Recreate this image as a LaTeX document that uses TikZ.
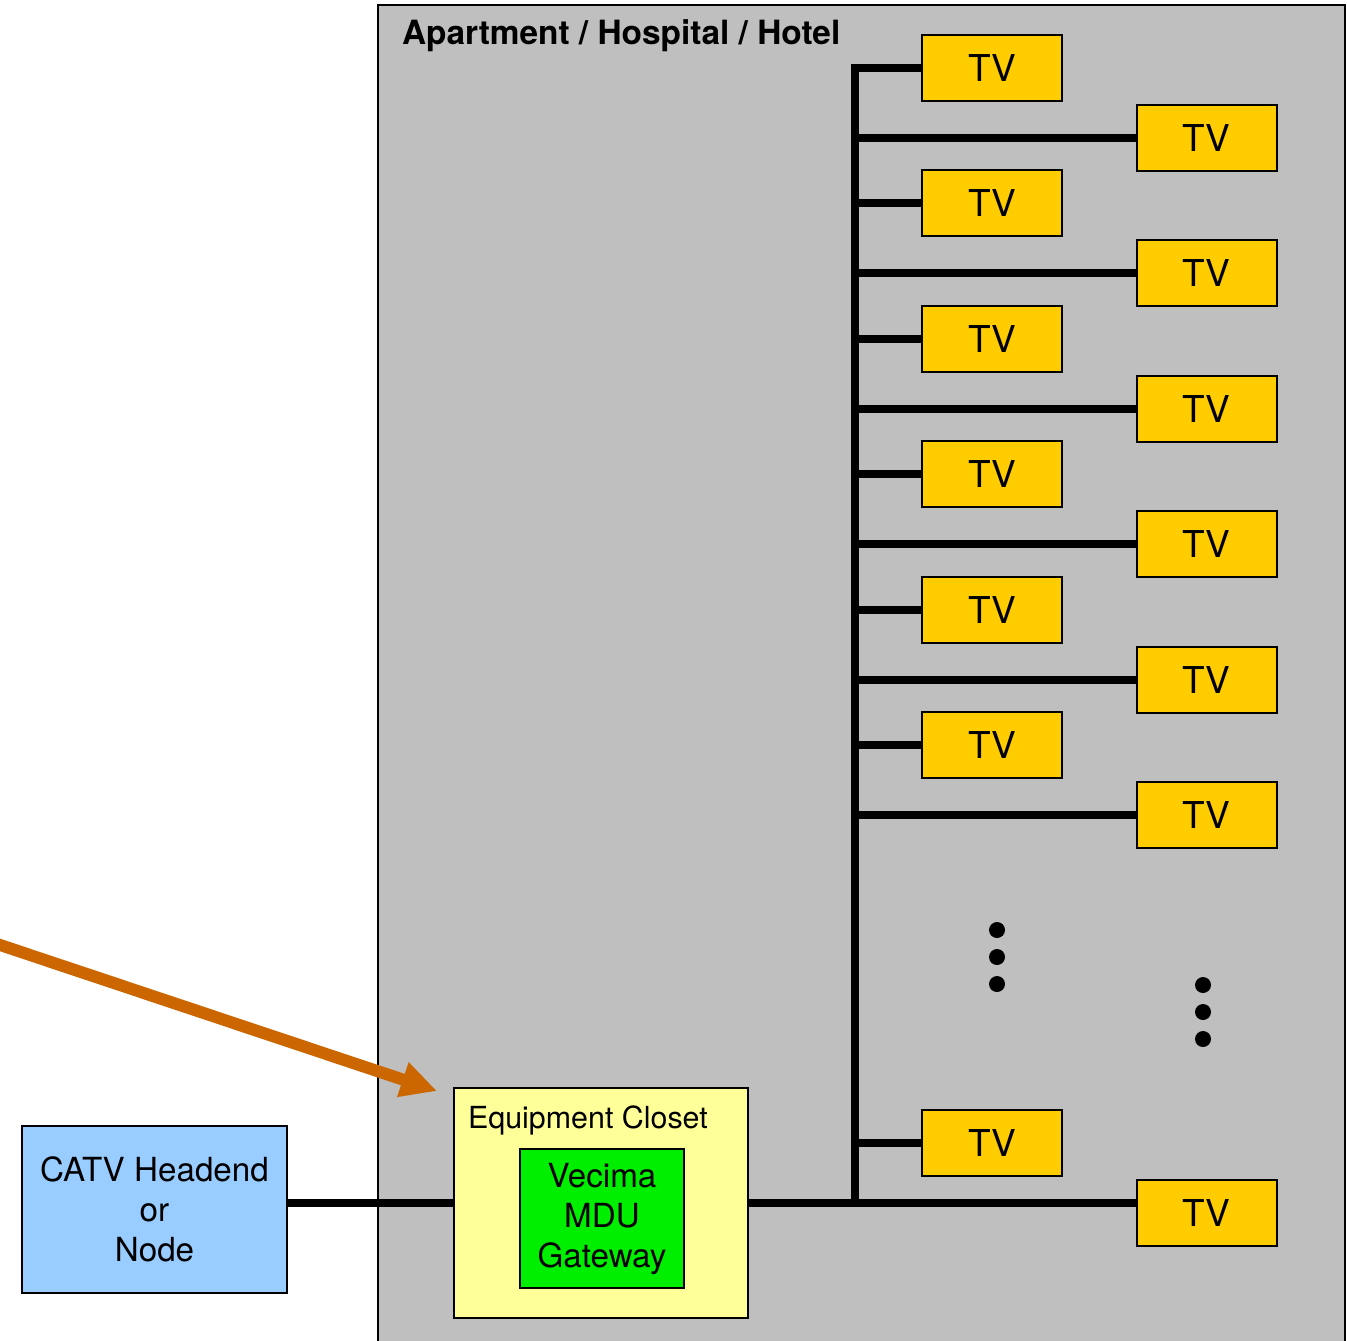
\documentclass[tikz,border=0pt]{standalone}
\usepackage{fontspec}
\setmainfont{TeX Gyre Heros}
\usepackage{tikz}
\usetikzlibrary{arrows.meta}

\definecolor{roomgray}{HTML}{BFBFBF}
\definecolor{tvyellow}{HTML}{FFCC00}
\definecolor{catvblue}{HTML}{99CCFF}
\definecolor{closetyellow}{HTML}{FFFF99}
\definecolor{gatewaygreen}{HTML}{00EE00}
\definecolor{arroworange}{HTML}{CC6600}

\begin{document}
\begin{tikzpicture}[x=0.5pt, y=-0.5pt, node distance=67.7pt, line width=1pt,
    tv node/.style={rectangle,draw,fill=tvyellow,minimum width=70pt,minimum height=33pt,inner sep=0pt,font=\fontsize{18.5}{20}\selectfont},
    box node/.style={rectangle,draw,align=center,inner sep=0pt,font=\fontsize{16.6}{20}\selectfont},
    label node/.style={anchor=base west,inner sep=0pt}]
            \path[use as bounding box, clip] (0,0) rectangle (1347,1340);

            % the building
            \draw[fill=roomgray, line width=1.2pt] (378,5) rectangle (1345,1380);
            \node[label node, font=\bfseries\fontsize{16.7}{19}\selectfont] (title) at (401,44) {Apartment / Hospital / Hotel};

            % TVs
            \node[tv node] (l1) at (992,68) {TV};
            \node[tv node] (l2) [below of=l1] {TV};
            \node[tv node] (l3) [below of=l2] {TV};
            \node[tv node] (l4) [below of=l3] {TV};
            \node[tv node] (l5) [below of=l4] {TV};
            \node[tv node] (l6) [below of=l5] {TV};
            \node[tv node] (l7) at (992,1143) {TV};
            \node[tv node] (r1) at (1206.5,138) {TV};
            \node[tv node] (r2) [below of=r1] {TV};
            \node[tv node] (r3) [below of=r2] {TV};
            \node[tv node] (r4) [below of=r3] {TV};
            \node[tv node] (r5) [below of=r4] {TV};
            \node[tv node] (r6) [below of=r5] {TV};
            \node[tv node] (r7) at (1206.5,1213) {TV};

            % head end and closet
            \node[box node, fill=catvblue, minimum width=132.5pt, minimum height=83.5pt] (catv) at (154.5,1209) {CATV Headend\\or\\Node};
            \node[box node, fill=closetyellow, minimum width=147pt, minimum height=115pt] (closet) at (601,1203) {};
            \node[label node, font=\fontsize{15.2}{17}\selectfont] (closet label) at (467,1128) {Equipment Closet};
            \node[box node, fill=gatewaygreen, minimum width=82pt, minimum height=69.5pt] (gateway) at (602,1218.5) {Vecima\\MDU\\Gateway};

            % cabling
            \coordinate (bustop) at (855,68);
            \coordinate (busend) at (855,1203);
            \draw[line width=4pt] (l1.west) -- (bustop) -- (busend);
            \draw[line width=4pt]
                (l2.west -| bustop) -- (l2.west)
                (l3.west -| bustop) -- (l3.west)
                (l4.west -| bustop) -- (l4.west)
                (l5.west -| bustop) -- (l5.west)
                (l6.west -| bustop) -- (l6.west)
                (l7.west -| bustop) -- (l7.west)
                (r1.west -| bustop) -- (r1.west)
                (r2.west -| bustop) -- (r2.west)
                (r3.west -| bustop) -- (r3.west)
                (r4.west -| bustop) -- (r4.west)
                (r5.west -| bustop) -- (r5.west)
                (r6.west -| bustop) -- (r6.west);
            \draw[line width=4pt] (catv.east |- busend) -- (closet.west |- busend);
            \draw[line width=4pt] (closet.east |- busend) -- (busend) -- (busend -| r7.west);

            % more TVs
            \fill (997,930) circle (4pt) (997,957) circle (4pt) (997,984) circle (4pt);
            \fill (1203,985) circle (4pt) (1203,1012) circle (4pt) (1203,1039) circle (4pt);

            % pointer to the closet
            \coordinate (feed) at (-10,941.6);
            \draw[arroworange, line width=6pt, -{Triangle[length=18pt, width=17pt]}] (feed) -- ([shift={(-16,4)}]closet.north west);
        \end{tikzpicture}
\end{document}
